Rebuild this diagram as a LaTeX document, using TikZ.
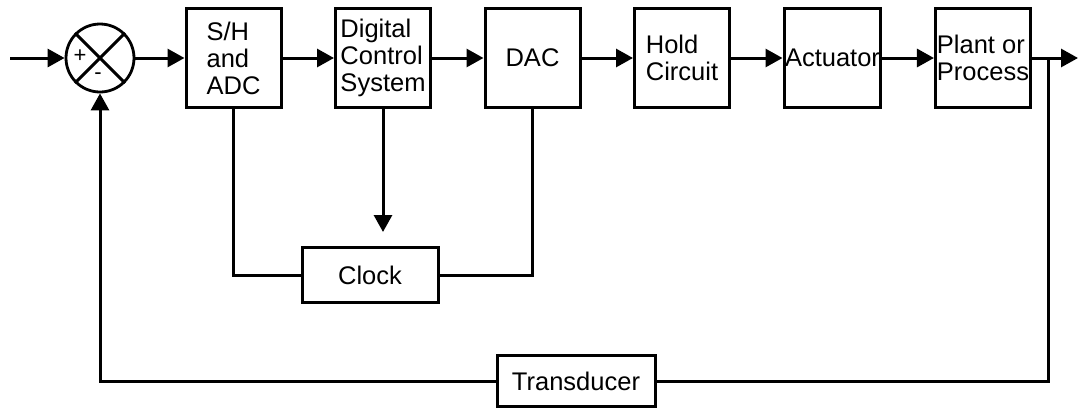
\documentclass[tikz,border=0pt]{standalone}
\usepackage{fontspec}
\setmainfont{Liberation Sans}
\usetikzlibrary{positioning,arrows.meta}

\begin{document}
\begin{tikzpicture}[x=1pt,y=-1pt,every node/.style={font=\fontsize{25.5}{27}\selectfont},
      blockbox/.style={draw,line width=3pt,minimum width=95pt,minimum height=99pt,align=left,inner sep=1pt},
      sumnode/.style={draw,circle,line width=2.8pt,minimum size=68pt,inner sep=0pt},
      sign/.style={font=\fontsize{22}{22}\selectfont,inner sep=0pt},
      wire/.style={line width=3pt},
      arrow/.style={-{Triangle[length=17pt,width=18pt]},line width=3pt}]
      \useasboundingbox (0,0) rectangle (1079,410);
      \node[sumnode] (sum) at (100,58) {};
      \node[sign] (plus) at (80,56) {+};
      \node[sign] (minus) at (98,76) {-};
      \node[blockbox] (sh) at (233.5,58) {S/H\\and\\ADC};
      \node[blockbox,right=51.5pt of sh] (dcs) {Digital\\Control\\System};
      \node[blockbox,right=51.5pt of dcs] (dac) {DAC};
      \node[blockbox,right=51.5pt of dac] (hold) {Hold\\Circuit};
      \node[blockbox,right=51.5pt of hold] (act) {Actuator};
      \node[blockbox,right=51.5pt of act] (plant) {Plant or\\Process};
      \node[blockbox,minimum width=136pt,minimum height=55pt] (clock) at (370,275) {Clock};
      \node[blockbox,minimum width=158pt,minimum height=51pt] (trans) at (576,381) {Transducer};
      \coordinate (in) at (10,58);
      \coordinate (out) at (1078,58);
      \coordinate (branch) at (1048,58);
      \draw[wire] (sum.north west) -- (sum.south east);
      \draw[wire] (sum.north east) -- (sum.south west);
      \draw[arrow] (in)--(sum); \draw[arrow] (sum)--(sh);
      \draw[arrow] (sh)--(dcs); \draw[arrow] (dcs)--(dac);
      \draw[arrow] (dac)--(hold); \draw[arrow] (hold)--(act);
      \draw[arrow] (act)--(plant); \draw[arrow] (plant)--(out);
      \draw[wire] (branch) |- (trans);
      \draw[arrow] (trans) -| (sum);
      \draw[wire] (sh) |- (clock); \draw[wire] (dac) |- (clock);
      \draw[arrow,shorten >=14pt] (dcs) -- (dcs.south |- clock.north);
    \end{tikzpicture}
\end{document}
